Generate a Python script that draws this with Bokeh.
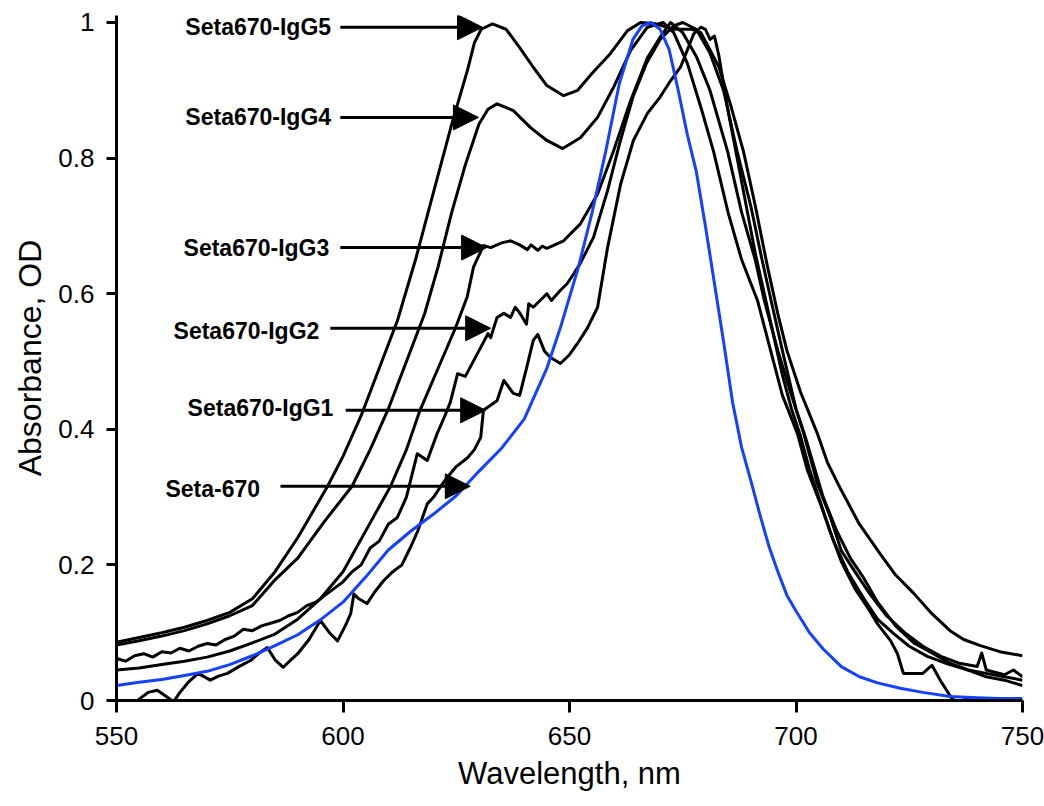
from bokeh.plotting import figure
from bokeh.models import Range1d, FixedTicker, CustomJSTickFormatter, Arrow, NormalHead, Label
from bokeh.embed import file_html
from bokeh.resources import INLINE

# ---------------- data (wavelength nm, absorbance OD) ----------------
seta670 = [(550, 0.022), (555, 0.027), (560, 0.031), (565, 0.037), (570, 0.043), (575, 0.053),
           (580, 0.066), (585, 0.081), (590, 0.097), (595, 0.119), (600, 0.145), (605, 0.182),
           (610, 0.222), (615, 0.25), (620, 0.275), (625, 0.302), (630, 0.338), (635, 0.372),
           (640, 0.415), (645, 0.49), (648, 0.55), (650, 0.595), (652, 0.64), (655, 0.72),
           (658, 0.81), (661, 0.91), (664, 0.975), (666, 0.995), (668, 1.0), (670, 0.99),
           (672, 0.96), (674, 0.9), (676, 0.835), (678, 0.78), (680, 0.7), (682, 0.615),
           (684, 0.53), (686, 0.44), (688, 0.373), (690, 0.325), (692, 0.275), (694, 0.228),
           (696, 0.19), (698, 0.155), (700, 0.132), (703, 0.1), (706, 0.076), (710, 0.05),
           (714, 0.035), (718, 0.026), (723, 0.018), (728, 0.012), (734, 0.006), (740, 0.004),
           (745, 0.003), (750, 0.003)]

igg5 = [(550, 0.086), (555, 0.093), (560, 0.1), (565, 0.108), (570, 0.118), (575, 0.13),
        (580, 0.15), (585, 0.19), (590, 0.24), (596.6, 0.316), (600, 0.36), (604, 0.42),
        (608, 0.49), (612, 0.56), (616, 0.65), (620, 0.75), (624, 0.85), (627.5, 0.93),
        (629, 0.97), (630.5, 0.99), (633, 0.998), (636, 0.99), (639, 0.963), (642, 0.934),
        (645, 0.907), (648.7, 0.892), (651.8, 0.9), (655, 0.925), (659, 0.954), (662.8, 0.988),
        (665.7, 1.0), (669, 0.998), (673, 0.99), (677, 0.99), (679, 0.985), (681, 0.96),
        (683, 0.934), (685.5, 0.88), (688.4, 0.81), (691, 0.73), (693.7, 0.64), (696, 0.57),
        (698, 0.516), (701, 0.455), (704.7, 0.394), (707, 0.35), (710, 0.31), (714, 0.26),
        (718.7, 0.215), (722, 0.185), (726, 0.158), (730, 0.128), (734, 0.103), (737, 0.09),
        (740.7, 0.081), (745, 0.072), (750, 0.066)]

igg4 = [(550, 0.082), (555, 0.088), (560, 0.095), (565, 0.103), (570, 0.113), (575, 0.125),
        (580, 0.14), (585, 0.178), (590, 0.21), (596, 0.265), (602, 0.316), (606, 0.37),
        (610, 0.43), (614, 0.5), (618, 0.57), (621, 0.64), (624, 0.72), (627, 0.79),
        (630, 0.85), (632, 0.872), (634, 0.88), (637.6, 0.87), (641.4, 0.845), (645, 0.826),
        (648.5, 0.814), (652.4, 0.83), (656.2, 0.86), (659.7, 0.904), (663.5, 0.959),
        (667.2, 0.993), (670.7, 1.0), (673, 0.985), (676, 0.94), (679, 0.875), (681.8, 0.81),
        (685, 0.72), (688, 0.65), (691.5, 0.59), (694.4, 0.516), (697, 0.45), (700.3, 0.394),
        (702.5, 0.34), (705.4, 0.29), (708.3, 0.235), (711.4, 0.19), (715, 0.15), (718, 0.12),
        (721.5, 0.099), (725, 0.08), (729, 0.065), (733, 0.055), (738, 0.045), (742, 0.04),
        (746, 0.035), (750, 0.03)]

igg3 = [(550, 0.045), (555, 0.048), (560, 0.053), (565, 0.058), (570, 0.064), (575, 0.073),
        (580, 0.085), (585, 0.098), (590, 0.12), (595, 0.15), (600, 0.19), (606, 0.262),
        (610.5, 0.316), (614, 0.37), (617, 0.428), (621, 0.49), (624.8, 0.549), (627.4, 0.595),
        (628.8, 0.639), (631, 0.671), (632.6, 0.668), (635, 0.675), (637, 0.678), (639, 0.672),
        (640.7, 0.665), (641.5, 0.672), (643, 0.664), (644, 0.67), (645, 0.667), (648.7, 0.678),
        (652.4, 0.703), (656.2, 0.747), (659.7, 0.81), (663.5, 0.885), (667.2, 0.948),
        (670, 0.978), (672.3, 1.0), (675, 0.985), (678, 0.95), (681, 0.9), (684.9, 0.81),
        (688, 0.72), (691, 0.65), (693, 0.59), (696, 0.516), (699, 0.45), (701.7, 0.394),
        (704.7, 0.32), (707.6, 0.27), (710, 0.221), (713, 0.19), (716, 0.16), (720, 0.125),
        (724, 0.1), (728, 0.08), (732, 0.065), (736, 0.055), (740, 0.05), (741, 0.07),
        (742, 0.045), (746, 0.038), (748, 0.045), (750, 0.035)]

igg2 = [(550, 0.062), (552, 0.058), (554, 0.066), (556, 0.069), (558, 0.064), (560, 0.072),
        (562, 0.07), (564, 0.077), (566, 0.073), (568, 0.08), (570, 0.084), (572, 0.082),
        (574, 0.09), (576, 0.095), (578, 0.105), (580, 0.103), (582, 0.11), (584, 0.114),
        (586, 0.118), (588, 0.125), (590, 0.13), (592, 0.14), (594, 0.145), (596, 0.155),
        (598, 0.165), (600, 0.175), (602, 0.19), (604, 0.2), (606, 0.225), (608, 0.235),
        (610, 0.26), (612, 0.27), (614, 0.3), (616.4, 0.364), (618.6, 0.354), (620.8, 0.394),
        (622.5, 0.42), (623.7, 0.44), (625.3, 0.482), (627, 0.478), (629.7, 0.512),
        (632, 0.541), (632.6, 0.535), (634, 0.565), (635.5, 0.571), (637, 0.565), (638, 0.58),
        (639, 0.572), (640.5, 0.555), (641, 0.585), (642, 0.58), (643.5, 0.59), (645, 0.6),
        (646, 0.59), (648, 0.605), (649.5, 0.615), (651, 0.63), (652.4, 0.645), (655.3, 0.683),
        (658.4, 0.752), (661, 0.82), (664, 0.89), (667, 0.94), (670, 0.975), (673, 0.995),
        (675, 1.0), (678, 0.99), (681, 0.955), (684, 0.9), (687, 0.81), (690, 0.73),
        (692.5, 0.65), (694.5, 0.59), (697, 0.516), (700, 0.43), (702, 0.39), (706, 0.3),
        (709, 0.25), (712, 0.21), (715, 0.18), (718, 0.145), (722, 0.11), (726, 0.085),
        (730, 0.07), (734, 0.055), (738, 0.045), (742, 0.035), (746, 0.03), (750, 0.022)]

igg1 = [(550, -0.02), (553, -0.01), (555, 0.002), (557, 0.012), (559, 0.015), (561, 0.006),
        (562.6, -0.002), (564, 0.012), (566, 0.028), (568, 0.04), (570.7, 0.03), (572.5, 0.036),
        (574.5, 0.04), (577, 0.05), (579.6, 0.059), (581.5, 0.07), (583.3, 0.078), (585, 0.06),
        (586.8, 0.049), (588.5, 0.06), (590, 0.069), (592.5, 0.09), (595, 0.118), (597, 0.1),
        (598.8, 0.088), (600.5, 0.11), (601.7, 0.128), (602.4, 0.157), (603.5, 0.15),
        (605.3, 0.143), (607, 0.16), (609, 0.177), (611, 0.19), (613, 0.2), (614.9, 0.226),
        (616.5, 0.25), (618.6, 0.29), (620, 0.3), (621.5, 0.315), (623, 0.329), (625, 0.345),
        (627.5, 0.358), (629, 0.37), (630.4, 0.388), (631, 0.428), (632.5, 0.435), (634, 0.442),
        (635.5, 0.472), (637.6, 0.453), (639, 0.45), (640.5, 0.49), (642, 0.531), (643, 0.54),
        (644.5, 0.515), (645.8, 0.506), (648, 0.497), (650, 0.51), (651.8, 0.527), (654, 0.55),
        (656.2, 0.58), (658.4, 0.668), (661.3, 0.762), (664.1, 0.826), (667.2, 0.866),
        (670, 0.89), (672.3, 0.914), (674.5, 0.934), (676, 0.959), (677.4, 0.983), (679, 0.993),
        (680, 0.99), (681, 0.975), (682, 0.98), (683, 0.95), (685, 0.87), (687, 0.8), (689, 0.73),
        (691, 0.66), (693, 0.6), (695, 0.54), (697, 0.48), (699, 0.43), (701, 0.39), (703, 0.34),
        (705, 0.3), (707.5, 0.25), (710, 0.205), (713, 0.165), (716, 0.135), (718, 0.113),
        (720.9, 0.088), (722.4, 0.069), (723.7, 0.04), (726, 0.04), (728, 0.04), (730, 0.052),
        (732, 0.028), (734.5, 0.002), (736, -0.003), (738, 0.004), (740, -0.002), (742, 0.003),
        (744, -0.002), (746, 0.002), (748, -0.003), (750, 0.0)]

x_ticks = [550, 600, 650, 700, 750]
y_ticks = [0, 0.2, 0.4, 0.6, 0.8, 1.0]

# annotation labels: text, text anchor (x, y), arrow start x, arrow tip (x, y)
annotations = [
    ("Seta670-IgG5", 565.2, 0.993, 599.4, 630.8, 0.993),
    ("Seta670-IgG4", 565.2, 0.860, 599.4, 629.9, 0.860),
    ("Seta670-IgG3", 564.8, 0.668, 599.4, 631.7, 0.668),
    ("Seta670-IgG2", 562.6, 0.545, 597.2, 632.6, 0.549),
    ("Seta670-IgG1", 565.7, 0.431, 600.6, 631.5, 0.428),
    ("Seta-670", 560.8, 0.312, 586.2, 628.1, 0.316),
]

# ---------------- figure ----------------
p = figure(width=1044, height=806, output_backend="svg", toolbar_location=None,
           x_range=Range1d(550, 750), y_range=Range1d(0, 1.0103),
           min_border_left=116, min_border_right=22, min_border_top=15, min_border_bottom=106)
p.outline_line_color = None
p.xgrid.visible = False
p.ygrid.visible = False
p.background_fill_color = "white"
p.border_fill_color = "white"

FONT = "Liberation Sans"
for ax in (p.xaxis[0], p.yaxis[0]):
    ax.axis_line_width = 3
    ax.axis_line_color = "black"
    ax.major_tick_line_width = 3
    ax.major_tick_line_color = "black"
    ax.major_tick_in = 0
    ax.minor_tick_in = 0
    ax.minor_tick_out = 0
    ax.major_label_text_font = FONT
    ax.major_label_text_font_size = "26px"
    ax.major_label_text_color = "black"
    ax.axis_label_text_color = "black"
    ax.axis_label_text_font = FONT
    ax.axis_label_text_font_style = "normal"

p.xaxis[0].ticker = FixedTicker(ticks=x_ticks)
p.yaxis[0].ticker = FixedTicker(ticks=y_ticks)
p.yaxis[0].formatter = CustomJSTickFormatter(code="return String(Math.round(tick*10)/10);")
p.xaxis[0].major_tick_out = 12
p.yaxis[0].major_tick_out = 10
p.xaxis[0].major_label_standoff = 14
p.yaxis[0].major_label_standoff = 12

p.xaxis[0].axis_label = "Wavelength, nm"
p.xaxis[0].axis_label_text_font_size = "31px"
p.xaxis[0].axis_label_standoff = 8
p.yaxis[0].axis_label = "Absorbance, OD"
p.yaxis[0].axis_label_text_font_size = "32px"
p.yaxis[0].axis_label_standoff = 7

def xs(series):
    return [pt[0] for pt in series]

def ys(series):
    return [pt[1] for pt in series]

for s in (igg5, igg4, igg3, igg2, igg1):
    p.line(xs(s), ys(s), line_color="black", line_width=3, line_join="round")
p.line(xs(seta670), ys(seta670), line_color="#1440ff", line_width=3, line_join="round")

for text, tx, ty, ax0, ax1, ay in annotations:
    p.add_layout(Label(x=tx, y=ty, text=text, text_font=FONT,
                       text_font_style="bold", text_font_size="23px",
                       text_baseline="middle", text_align="left", text_color="black"))
    p.add_layout(Arrow(x_start=ax0, y_start=ay, x_end=ax1, y_end=ay,
                       line_width=3, line_color="black",
                       end=NormalHead(size=25, fill_color="black", line_color="black", line_width=1)))

open("out.html", "w").write(file_html(p, INLINE))
